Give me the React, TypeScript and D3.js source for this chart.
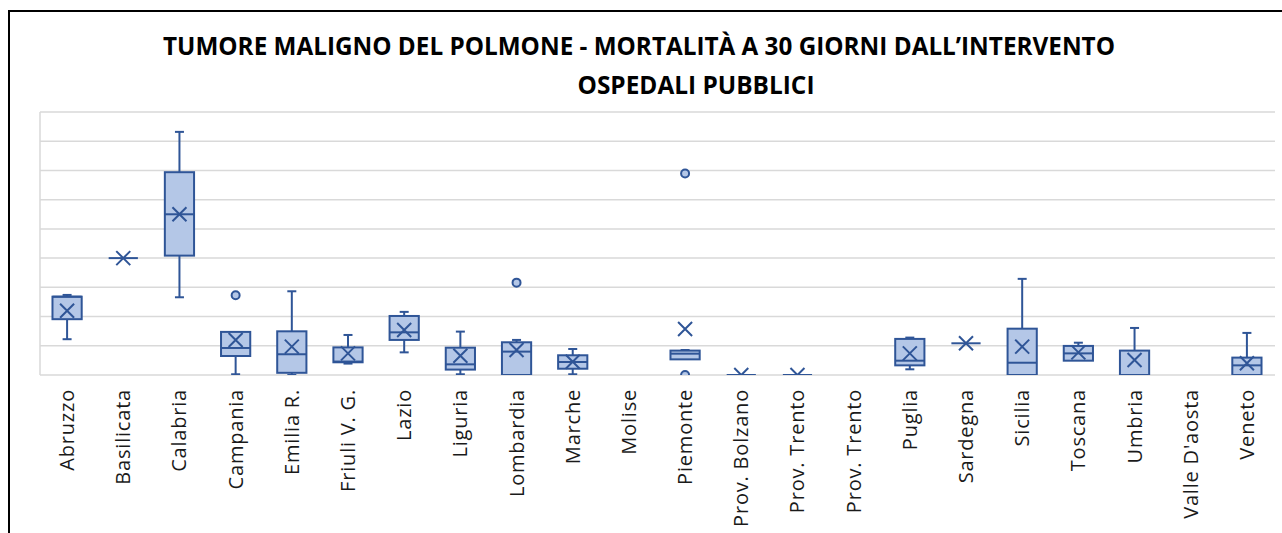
import * as d3 from 'd3'
import React, { useEffect, useRef } from 'react'

const categories = [
  'Abruzzo',
  'Basilicata',
  'Calabria',
  'Campania',
  'Emilia R.',
  'Friuli  V. G.',
  'Lazio',
  'Liguria',
  'Lombardia',
  'Marche',
  'Molise',
  'Piemonte',
  'Prov. Bolzano',
  'Prov.  Trento',
  'Prov. Trento',
  'Puglia',
  'Sardegna',
  'Sicilia',
  'Toscana',
  'Umbria',
  "Valle D'aosta",
  'Veneto',
]

// box plot stats per region (%), null = no data
const whiskerLow = [2.45, 8.0, 5.32, 0.05, 0, 0.78, 1.55, 0.05, 0, 0.05, null, 1.05, 0, 0, null, 0.39, 2.17, 0, 0.98, 0, null, 0]
const boxQ1 = [3.82, 8.0, 8.17, 1.3, 0.15, 0.87, 2.4, 0.37, 0, 0.43, null, 1.07, 0, 0, null, 0.66, 2.17, 0, 0.98, 0, null, 0]
const boxMedian = [5.36, 8.0, 11.0, 1.85, 1.42, 0.92, 2.92, 0.73, 1.6, 0.89, null, 1.46, 0, 0, null, 0.98, 2.17, 0.84, 1.48, 0, null, 0.66]
const boxQ3 = [5.36, 8.0, 13.88, 2.95, 2.99, 1.89, 4.04, 1.87, 2.24, 1.35, null, 1.67, 0, 0, null, 2.47, 2.17, 3.17, 1.99, 1.67, null, 1.19]
const whiskerHigh = [5.48, 8.0, 16.64, 2.95, 5.73, 2.74, 4.32, 2.97, 2.4, 1.78, null, 1.71, 0, 0, null, 2.56, 2.17, 6.58, 2.21, 3.22, null, 2.88]
const means = [4.4, 8.0, 11.0, 2.4, 1.94, 1.48, 3.08, 1.32, 1.71, 0.91, null, 3.15, 0, 0, null, 1.48, 2.17, 1.94, 1.55, 1.03, null, 0.8]
const outliers: number[][] = [[], [], [], [5.46], [], [], [], [], [6.32], [], [], [13.79, 0], [], [], [], [], [], [], [], [], [], []]

const yTicks = [0, 2, 4, 6, 8, 10, 12, 14, 16, 18]

const titleLines = ['TUMORE MALIGNO DEL POLMONE - MORTALITÀ A 30 GIORNI DALL\u2019INTERVENTO', 'OSPEDALI PUBBLICI']

const W = 1282
const H = 533
const stroke = '#2F5597'
const fill = '#B4C7E7'

export default function App() {
  const svgRef = useRef<SVGSVGElement>(null)

  useEffect(() => {
    if (!svgRef.current) return
    const svg = d3.select(svgRef.current)
    svg.selectAll('*').remove()

    const plot = { left: 39, right: 1275, top: 112, bottom: 375 }

    const x = d3
      .scaleBand<number>()
      .domain(d3.range(categories.length))
      .range([plot.left, plot.right])
    const y = d3.scaleLinear().domain([0, 18]).range([plot.bottom, plot.top])

    // outer frame (only left + top visible)
    svg
      .append('rect')
      .attr('x', 9)
      .attr('y', 11)
      .attr('width', W + 20)
      .attr('height', H + 20)
      .attr('fill', 'white')
      .attr('stroke', '#000')
      .attr('stroke-width', 2)

    // title
    const titleX = [639, 696]
    const titleY = [55, 94]
    const titleLen = [952, 237]
    titleLines.forEach((t, i) => {
      svg
        .append('text')
        .attr('x', titleX[i])
        .attr('y', titleY[i])
        .attr('text-anchor', 'middle')
        .attr('textLength', titleLen[i])
        .attr('lengthAdjust', 'spacingAndGlyphs')
        .style('font-family', "'Open Sans', sans-serif")
        .style('font-weight', '700')
        .style('font-size', '25px')
        .style('fill', '#000')
        .text(t)
    })

    // gridlines
    svg
      .append('g')
      .selectAll('line')
      .data(yTicks)
      .join('line')
      .attr('x1', plot.left + 1)
      .attr('x2', plot.right)
      .attr('y1', d => y(d))
      .attr('y2', d => y(d))
      .attr('stroke', '#d9d9d9')
      .attr('stroke-width', 1.5)

    svg
      .append('line')
      .attr('x1', plot.left + 1)
      .attr('x2', plot.left + 1)
      .attr('y1', plot.top)
      .attr('y2', plot.bottom)
      .attr('stroke', '#d9d9d9')
      .attr('stroke-width', 1.5)

    // clip to plot area like Excel does
    svg
      .append('clipPath')
      .attr('id', 'plot-clip')
      .append('rect')
      .attr('x', plot.left)
      .attr('y', plot.top - 10)
      .attr('width', plot.right - plot.left)
      .attr('height', plot.bottom - plot.top + 10)

    const g = svg.append('g').attr('clip-path', 'url(#plot-clip)')
    const bw = x.bandwidth() * 0.52
    const capW = 9
    const mk = 7

    categories.forEach((_, i) => {
      const lo = whiskerLow[i]
      const q1 = boxQ1[i]
      const med = boxMedian[i]
      const q3 = boxQ3[i]
      const hi = whiskerHigh[i]
      const mean = means[i]
      if (lo == null || q1 == null || med == null || q3 == null || hi == null) return
      const cx = (x(i) ?? 0) + x.bandwidth() / 2
      const b = g.append('g')

      // whiskers
      const whisk = (a: number, c: number) => {
        if (Math.abs(y(a) - y(c)) < 0.5) return
        b.append('line')
          .attr('x1', cx)
          .attr('x2', cx)
          .attr('y1', y(a))
          .attr('y2', y(c))
          .attr('stroke', stroke)
          .attr('stroke-width', 2)
        b.append('line')
          .attr('x1', cx - capW / 2)
          .attr('x2', cx + capW / 2)
          .attr('y1', y(c))
          .attr('y2', y(c))
          .attr('stroke', stroke)
          .attr('stroke-width', 2)
      }
      whisk(q3, hi)
      whisk(q1, lo)

      // box
      b.append('rect')
        .attr('x', cx - bw / 2)
        .attr('y', y(q3))
        .attr('width', bw)
        .attr('height', Math.max(0, y(q1) - y(q3)))
        .attr('fill', fill)
        .attr('stroke', stroke)
        .attr('stroke-width', 2)

      // median
      b.append('line')
        .attr('x1', cx - bw / 2)
        .attr('x2', cx + bw / 2)
        .attr('y1', y(med))
        .attr('y2', y(med))
        .attr('stroke', stroke)
        .attr('stroke-width', 2)

      // mean marker (X)
      if (mean != null) {
        const my = y(mean)
        b.append('path')
          .attr('d', `M${cx - mk},${my - mk}L${cx + mk},${my + mk}M${cx - mk},${my + mk}L${cx + mk},${my - mk}`)
          .attr('stroke', stroke)
          .attr('stroke-width', 2)
          .attr('fill', 'none')
      }

      // outliers
      b.selectAll('circle')
        .data(outliers[i])
        .join('circle')
        .attr('cx', cx)
        .attr('cy', d => y(d))
        .attr('r', 4)
        .attr('fill', fill)
        .attr('stroke', stroke)
        .attr('stroke-width', 2)
    })

    // category labels
    svg
      .append('g')
      .selectAll('text')
      .data(categories)
      .join('text')
      .attr('transform', (_, i) => `translate(${(x(i) ?? 0) + x.bandwidth() / 2},389) rotate(-90)`)
      .attr('text-anchor', 'end')
      .attr('dy', '0.35em')
      .style('font-family', "'Open Sans', sans-serif")
      .style('font-size', '20px')
      .style('letter-spacing', '0.8px')
      .style('fill', '#1a1a1a')
      .text(d => d)
  }, [])

  return (
    <svg
      ref={svgRef}
      width={W}
      height={H}
      style={{ position: 'absolute', left: 0, top: 0, background: '#fff' }}
    />
  )
}
